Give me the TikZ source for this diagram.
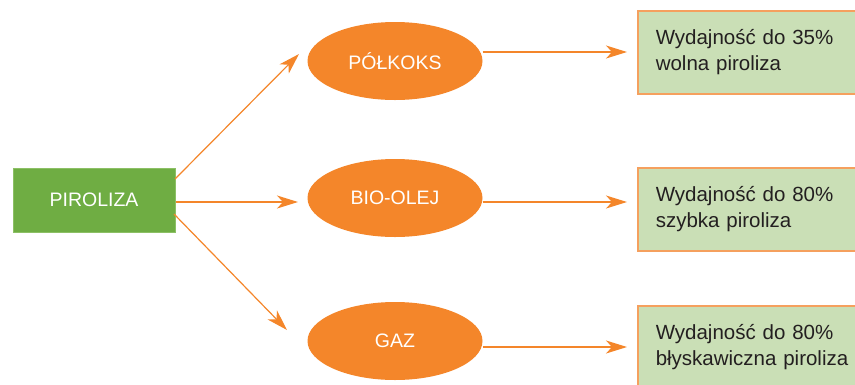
\documentclass[tikz,border=0pt]{standalone}
\usepackage{fontspec}
\setmainfont{Liberation Sans}
\usetikzlibrary{arrows.meta,shapes.geometric}
\definecolor{pgreen}{HTML}{6FAD43}
\definecolor{pgreenb}{HTML}{8CC065}
\definecolor{porange}{HTML}{F4862A}
\definecolor{pboxfill}{HTML}{CADFB6}
\definecolor{pboxline}{HTML}{F5A05E}
\definecolor{ptext}{HTML}{231F20}
\tikzset{
  mainbox/.style={draw=pgreenb, line width=1pt, fill=pgreen, text=white,
    minimum width=162pt, minimum height=64pt, inner sep=0pt,
    font=\fontsize{19.5}{22}\selectfont},
  prodell/.style={ellipse, fill=porange, text=white, minimum width=175pt,
    minimum height=78pt, inner sep=0pt, font=\fontsize{19.5}{22}\selectfont},
  infobox/.style={draw=pboxline, line width=1.5pt, fill=pboxfill, text=ptext,
    anchor=north west, text width=210pt, inner xsep=18pt, inner ysep=0pt,
    minimum height=83pt, align=left, font=\fontsize{20.5}{26}\selectfont},
  arr/.style={draw=porange, line width=1.2pt,
    -{Stealth[length=21pt,width=13pt,inset=6pt]}}
}
\begin{document}
\begin{tikzpicture}[x=1pt,y=-1pt]
\useasboundingbox (0,0) rectangle (855,384);
\clip (0,0) rectangle (855,384);
\node[mainbox] (p) at (94,200) {PIROLIZA};
\node[prodell] (e1) at (395,61) {PÓŁKOKS};
\node[prodell] (e2) at (395,198) {BIO-OLEJ};
\node[prodell] (e3) at (395,341) {GAZ};
\node[infobox] (b1) at (637,10) {Wydajność do 35\%\\wolna piroliza};
\node[infobox] (b2) at (637,167) {Wydajność do 80\%\\szybka piroliza};
\node[infobox] (b3) at (637,305) {Wydajność do 80\%\\błyskawiczna piroliza};
\coordinate (t1) at (299,54);
\coordinate (t2) at (298,202);
\coordinate (t3) at (287,330);
\coordinate (s1) at (175,179);
\coordinate (s3) at (174,214);
\coordinate (a1) at (0,52);
\coordinate (a2) at (0,202);
\coordinate (a3) at (0,347);
\draw[arr] (s1) -- (t1);
\draw[arr] (p.east |- t2) -- (t2);
\draw[arr] (s3) -- (t3);
\draw[arr] (e1.east |- a1) -- ([xshift=-10pt]b1.west |- a1);
\draw[arr] (e2.east |- a2) -- ([xshift=-10pt]b2.west |- a2);
\draw[arr] (e3.east |- a3) -- ([xshift=-10pt]b3.west |- a3);
\end{tikzpicture}
\end{document}
